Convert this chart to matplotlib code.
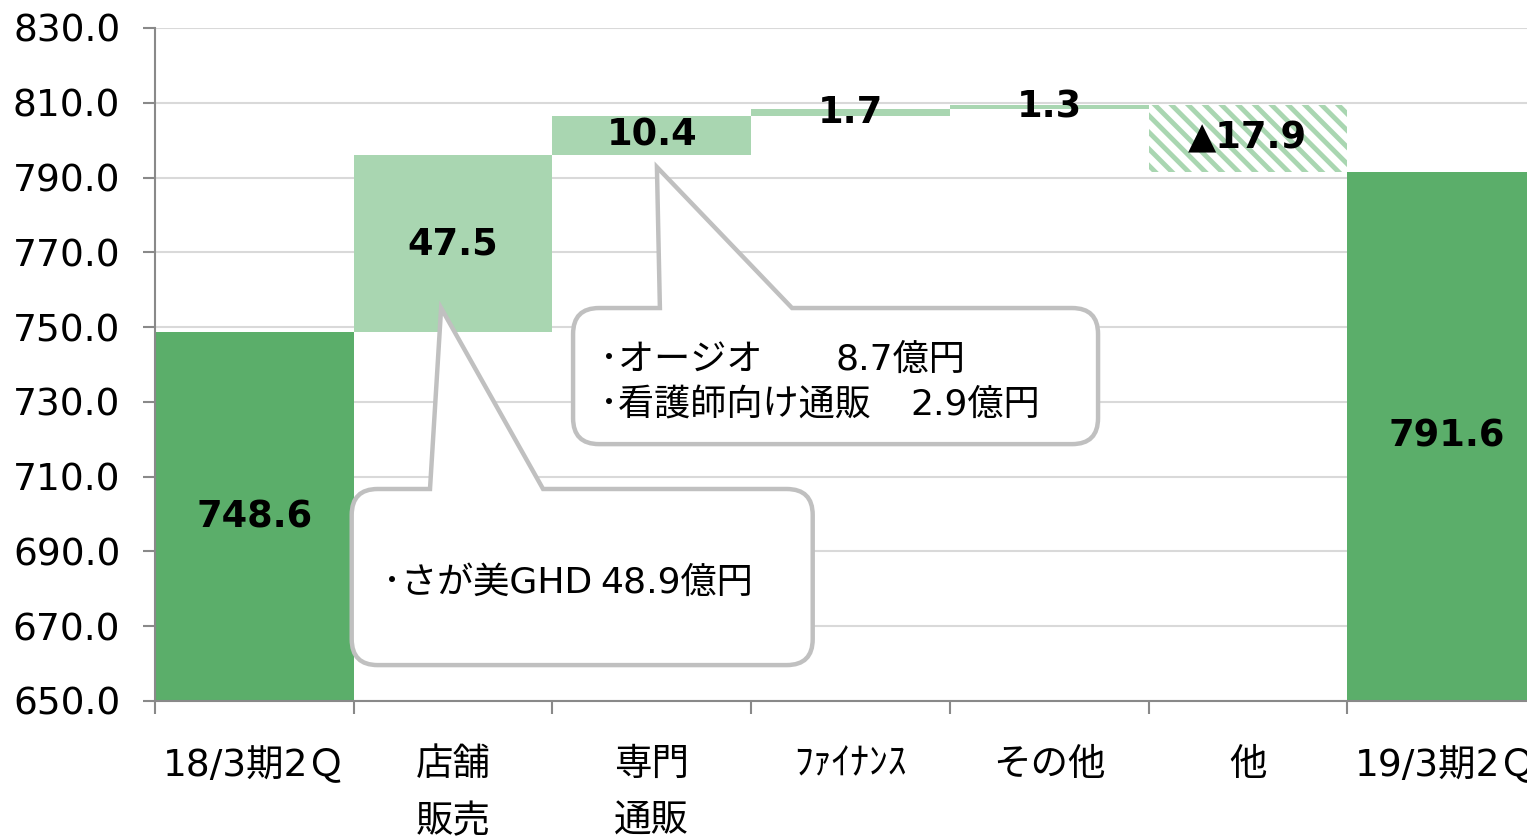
import matplotlib
matplotlib.use("Agg")
import matplotlib.pyplot as plt
import numpy as np
from matplotlib.path import Path
from matplotlib.patches import PathPatch
from matplotlib.transforms import IdentityTransform

plt.rcParams['font.family'] = ['DejaVu Sans', 'Noto Sans CJK JP']
plt.rcParams['hatch.linewidth'] = 3.5

# data
categories = ["18/3期2Ｑ", "店舗\n販売", "専門\n通販", "ﾌｧｲﾅﾝｽ", "その他", "他", "19/3期2Ｑ"]
start_value = 748.6
changes = [47.5, 10.4, 1.7, 1.3, -17.9]
end_value = 791.6
y_ticks = [650, 670, 690, 710, 730, 750, 770, 790, 810, 830]

dark_green = '#5bae6a'
light_green = '#a9d6b1'
line_gray = '#898989'
box_gray = '#c0c0c0'

fig = plt.figure(figsize=(15.27, 8.38), dpi=100)
ax = fig.add_axes([0.1015, 0.1635, 0.9109, 0.8031])
ax.set_xlim(-0.5, len(categories) - 0.5)
ax.set_ylim(y_ticks[0], y_ticks[-1])
ymin = y_ticks[0]

steps = np.array(changes)
tops = start_value + np.cumsum(steps)
bottoms = tops - steps
lows = np.minimum(tops, bottoms)
xs = np.arange(1, len(changes) + 1)

# start / end totals
ax.bar([0, len(categories) - 1], [start_value, end_value], width=1.0, color=dark_green, zorder=2)
# increases
up = steps > 0
ax.bar(xs[up], steps[up], bottom=lows[up], width=1.0, color=light_green, zorder=2)
# decreases (hatched)
ax.bar(xs[~up], -steps[~up], bottom=lows[~up], width=1.0, color='white',
       edgecolor=light_green, hatch='\\\\', linewidth=0, zorder=2)

# value labels
lab_kw = dict(ha='center', va='center', fontsize=26.5, fontweight='bold', zorder=5)
ax.text(0, (ymin + start_value) / 2, f"{start_value:.1f}", **lab_kw)
for xi, lo, st in zip(xs, lows, steps):
    txt = f"{st:.1f}" if st > 0 else f"▲{-st:.1f}"
    ax.text(xi, lo + abs(st) / 2, txt, **lab_kw)
ax.text(len(categories) - 1, (ymin + end_value) / 2, f"{end_value:.1f}", **lab_kw)

# axes styling
ax.set_yticks(y_ticks)
ax.set_yticklabels([f"{v:.1f}" for v in y_ticks])
ax.set_xticks(np.arange(len(categories)))
ax.set_xticklabels(categories, linespacing=1.75)
ax.set_xticks(np.arange(len(categories) + 1) - 0.5, minor=True)
ax.tick_params(axis='y', length=9, width=1.5, color=line_gray, pad=16, labelsize=27)
ax.tick_params(axis='x', which='major', length=0, pad=33, labelsize=27)
ax.tick_params(axis='x', which='minor', length=9, width=1.5, color=line_gray)
ax.grid(axis='y', color='#d9d9d9', linewidth=1.5)
ax.set_axisbelow(True)
for s in ['top', 'right']:
    ax.spines[s].set_visible(False)
for s in ['left', 'bottom']:
    ax.spines[s].set_color(line_gray)
    ax.spines[s].set_linewidth(1.5)


def callout(box, base, tip, r=26):
    # rounded box with a pointer on its top edge, built in pixel space
    t = ax.transData
    (x0, y0), (x1, y1) = t.transform([(box[0], box[2]), (box[1], box[3])])
    bx0 = t.transform((base[0], 0))[0]
    bx1 = t.transform((base[1], 0))[0]
    tx, ty = t.transform(tip)
    verts = [(x0 + r, y1), (bx0, y1), (tx, ty), (bx1, y1), (x1 - r, y1),
             (x1, y1), (x1, y1 - r), (x1, y0 + r),
             (x1, y0), (x1 - r, y0), (x0 + r, y0),
             (x0, y0), (x0, y0 + r), (x0, y1 - r),
             (x0, y1), (x0 + r, y1), (x0 + r, y1)]
    codes = [Path.MOVETO, Path.LINETO, Path.LINETO, Path.LINETO, Path.LINETO,
             Path.CURVE3, Path.CURVE3, Path.LINETO,
             Path.CURVE3, Path.CURVE3, Path.LINETO,
             Path.CURVE3, Path.CURVE3, Path.LINETO,
             Path.CURVE3, Path.CURVE3, Path.CLOSEPOLY]
    patch = PathPatch(Path(verts, codes), facecolor='white', edgecolor=box_gray,
                      linewidth=3.2, transform=IdentityTransform(), zorder=6, clip_on=False)
    ax.add_artist(patch)


callout((0.49, 2.81, 659.6, 706.7), (0.884, 1.453), (0.94, 755.1))
callout((1.604, 4.246, 718.7, 755.1), (2.041, 2.706), (2.026, 792.8))

note_kw = dict(ha='left', va='center', fontsize=26, zorder=7)
ax.text(0.647, 681.6, "･さが美GHD", **note_kw)
ax.text(1.740, 681.6, "48.9億円", **note_kw)
ax.text(1.740, 741.2, "･オージオ", **note_kw)
ax.text(2.927, 741.2, "8.7億円", **note_kw)
ax.text(1.740, 729.2, "･看護師向け通販", **note_kw)
ax.text(3.300, 729.2, "2.9億円", **note_kw)

fig.savefig("out.png", dpi=100)
